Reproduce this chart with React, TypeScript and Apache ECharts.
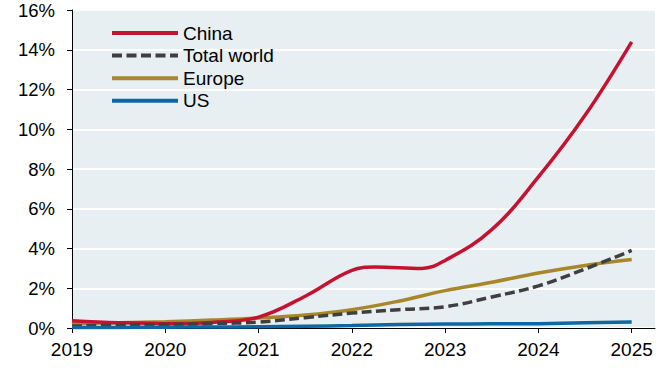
import React, { useEffect, useRef } from "react";
import * as echarts from "echarts";

const yearTicks = [2019, 2020, 2021, 2022, 2023, 2024, 2025];
const yTickValues = [0, 2, 4, 6, 8, 10, 12, 14, 16];

const halfYears = [2019, 2019.5, 2020, 2020.5, 2021, 2021.5, 2022, 2022.5, 2023, 2023.5, 2024, 2024.5, 2025];

const chinaX = [2019, 2019.5, 2020, 2020.5, 2021, 2021.5, 2022, 2022.25, 2022.75, 2023, 2023.5, 2024, 2024.5, 2025];
const china = [0.37, 0.27, 0.22, 0.28, 0.55, 1.6, 2.9, 3.07, 3.0, 3.4, 4.95, 7.6, 10.7, 14.4];
const totalWorld = [0.1, 0.13, 0.17, 0.22, 0.3, 0.52, 0.75, 0.92, 1.07, 1.56, 2.12, 2.97, 3.9];
const europe = [0.22, 0.27, 0.32, 0.4, 0.5, 0.65, 0.92, 1.35, 1.88, 2.3, 2.77, 3.15, 3.45];
const us = [0.02, 0.03, 0.04, 0.05, 0.06, 0.09, 0.12, 0.17, 0.2, 0.21, 0.22, 0.26, 0.3];

const seriesNames = ["China", "Total world", "Europe", "US"];

const pairs = (xs: number[], ys: number[]) => xs.map((x, i) => [x, ys[i]]);

export default function App() {
  const ref = useRef<HTMLDivElement>(null);
  useEffect(() => {
    if (!ref.current) return;
    const chart = echarts.init(ref.current, null, { renderer: "svg" });
    const font = "'Liberation Sans', Arial, sans-serif";
    const mk = (name: string, data: number[][], color: string, type: any, z: number) => ({
      name,
      type: "line",
      data,
      smooth: 0.4,
      symbol: "none",
      z,
      lineStyle: { color, width: 3.5, type, cap: "butt" },
      itemStyle: { color },
    });
    chart.setOption({
      animation: false,
      backgroundColor: "#ffffff",
      grid: {
        left: 72,
        right: 8,
        top: 10,
        bottom: 40,
        show: true,
        backgroundColor: "#E7EFF3",
        borderWidth: 0,
      },
      legend: {
        orient: "vertical",
        left: 105,
        top: 18.5,
        itemWidth: 66,
        itemHeight: 14,
        itemGap: 3.6,
        data: seriesNames,
        itemStyle: { opacity: 0 },
        lineStyle: { width: 4 },
        textStyle: { fontFamily: font, fontSize: 19, color: "#000", lineHeight: 19 },
      },
      xAxis: {
        type: "value",
        min: 2019,
        max: 2025.25,
        splitLine: { show: false },
        axisLine: { show: true, lineStyle: { color: "#000", width: 1 } },
        axisTick: { show: true, length: 5, lineStyle: { color: "#000" }, customValues: yearTicks },
        axisLabel: {
          customValues: yearTicks,
          color: "#000",
          fontFamily: font,
          fontSize: 19,
          margin: 12,
          formatter: (v: number) => String(v),
        },
      },
      yAxis: {
        type: "value",
        min: 0,
        max: 16,
        interval: 2,
        axisLine: { show: true, lineStyle: { color: "#000", width: 1 } },
        axisTick: { show: true, length: 5, lineStyle: { color: "#000" } },
        splitLine: { show: true, lineStyle: { color: "#ffffff", width: 2 } },
        axisLabel: {
          color: "#000",
          fontFamily: font,
          fontSize: 18.5,
          margin: 17,
          formatter: (v: number) => (yTickValues.includes(v) ? v + "%" : ""),
        },
      },
      series: [
        mk(seriesNames[0], pairs(chinaX, china), "#C41230", "solid", 4),
        mk(seriesNames[1], pairs(halfYears, totalWorld), "#3F3F3F", [10, 4.5], 5),
        mk(seriesNames[2], pairs(halfYears, europe), "#A8862A", "solid", 3),
        mk(seriesNames[3], pairs(halfYears, us), "#0E66A2", "solid", 6),
      ],
    });
    return () => chart.dispose();
  }, []);
  return <div ref={ref} style={{ width: 663, height: 368, position: "absolute", left: 0, top: 0 }} />;
}
